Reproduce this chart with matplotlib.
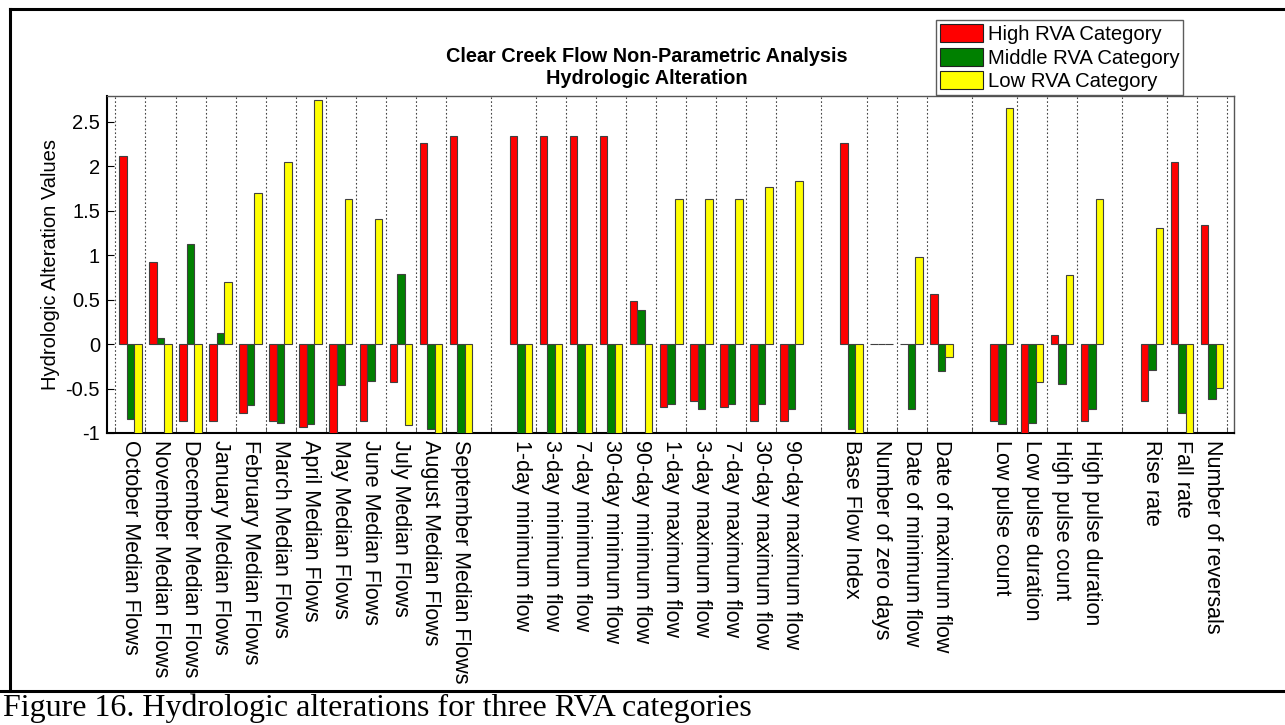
import numpy as np
import matplotlib
matplotlib.use("Agg")
import matplotlib.pyplot as plt
from matplotlib.lines import Line2D

plt.rcParams['font.family'] = ['Liberation Sans', 'DejaVu Sans']
plt.rcParams['axes.unicode_minus'] = False

# Categories, in their groups (a blank slot sits between groups)
groups = [
    ["October Median Flows", "November Median Flows", "December Median Flows",
     "January Median Flows", "February Median Flows", "March Median Flows",
     "April Median Flows", "May Median Flows", "June Median Flows",
     "July Median Flows", "August Median Flows", "September Median Flows"],
    ["1-day minimum flow", "3-day minimum flow", "7-day minimum flow",
     "30-day minimum flow", "90-day minimum flow", "1-day maximum flow",
     "3-day maximum flow", "7-day maximum flow", "30-day maximum flow",
     "90-day maximum flow"],
    ["Base Flow Index", "Number of zero days", "Date of minimum flow",
     "Date of maximum flow"],
    ["Low pulse count", "Low pulse duration", "High pulse count",
     "High pulse duration"],
    ["Rise rate", "Fall rate", "Number of reversals"],
]

high = [2.12, 0.92, -0.86, -0.86, -0.78, -0.86, -0.93, -1.0, -0.86, -0.43, 2.26, 2.34,
        2.34, 2.34, 2.34, 2.34, 0.49, -0.71, -0.64, -0.71, -0.86, -0.86,
        2.26, 0.0, 0.0, 0.56,
        -0.86, -1.0, 0.10, -0.86,
        -0.64, 2.05, 1.34]
middle = [-0.84, 0.07, 1.12, 0.12, -0.68, -0.89, -0.90, -0.46, -0.42, 0.79, -0.95, -1.0,
          -1.0, -1.0, -1.0, -1.0, 0.38, -0.67, -0.73, -0.67, -0.67, -0.73,
          -0.95, 0.0, -0.73, -0.30,
          -0.90, -0.89, -0.45, -0.73,
          -0.29, -0.78, -0.62]
low = [-1.0, -1.0, -1.0, 0.70, 1.70, 2.05, 2.75, 1.63, 1.41, -0.91, -1.0, -1.0,
       -1.0, -1.0, -1.0, -1.0, -1.0, 1.63, 1.63, 1.63, 1.77, 1.83,
       -1.0, 0.0, 0.98, -0.15,
       2.66, -0.43, 0.78, 1.63,
       1.30, -1.0, -0.49]

series_names = ["High RVA Category", "Middle RVA Category", "Low RVA Category"]
series_colors = ["#FF0000", "#008000", "#FFFF00"]

ytick_vals = [-1, -0.5, 0, 0.5, 1, 1.5, 2, 2.5]
ytick_labels = ["-1", "-0.5", "0", "0.5", "1", "1.5", "2", "2.5"]

title = "Clear Creek Flow Non-Parametric Analysis\nHydrologic Alteration"
ylabel = "Hydrologic Alteration Values"
caption = "Figure 16. Hydrologic alterations for three RVA categories"

# positions: one empty slot between groups
labels = []
x = []
pos = 0
for g in groups:
    labels.extend(g)
    x.extend(range(pos, pos + len(g)))
    pos += len(g) + 1
x = np.array(x, dtype=float)
grid_x = np.concatenate([[x[0] - 0.5], (x[:-1] + x[1:]) / 2, [x[-1] + 0.5]])

W, H = 1285, 725
fig = plt.figure(figsize=(W / 100, H / 100), dpi=100)
ax = fig.add_axes([107 / W, 1 - 433 / H, (1234 - 107) / W, (433 - 96) / H])

bw = 0.25
bars = []
for i, (vals, name, col) in enumerate(zip([high, middle, low], series_names, series_colors)):
    b = ax.bar(x + (i - 1) * bw, vals, bw, color=col, edgecolor="#404040",
               linewidth=0.8, label=name, zorder=3)
    bars.append(b)

ax.set_xlim(-0.78, 36.73)
ax.set_ylim(-1, 2.79)

ax.set_xticks(x)
ax.set_xticklabels(labels, rotation=-90, ha="center", va="top", fontsize=15.5)
ax.set_xticks(grid_x, minor=True)
ax.tick_params(axis="x", which="major", length=0, pad=5)
ax.tick_params(axis="x", which="minor", length=4, direction="in", color="#444444")
ax.grid(True, which="minor", axis="x", linestyle=(0, (1.5, 2)), color="#444444",
        linewidth=0.8, zorder=1)

ax.set_yticks(ytick_vals)
ax.set_yticklabels(ytick_labels, fontsize=14.5)
ax.tick_params(axis="y", length=5, direction="in", pad=5)

ax.set_ylabel(ylabel, fontsize=14.5)
ax.yaxis.set_label_coords(-0.042, 0.5)

for s in ["left", "bottom"]:
    ax.spines[s].set_color("black")
    ax.spines[s].set_linewidth(1.5)
for s in ["top", "right"]:
    ax.spines[s].set_color("#555555")
    ax.spines[s].set_linewidth(1.0)

fig.text(647 / W, 1 - 67 / H, title, ha="center", va="center",
         fontsize=14.3, fontweight="bold", linespacing=1.2)

leg = fig.legend(handles=bars, labels=series_names, loc="upper left",
                 bbox_to_anchor=(936 / W, 1 - 20 / H), bbox_transform=fig.transFigure,
                 borderaxespad=0, fontsize=14.6, frameon=True, fancybox=False,
                 edgecolor="#333333", handlelength=2.1, handleheight=1.0,
                 handletextpad=0.25, labelspacing=0.17, borderpad=0.2)
leg.get_frame().set_linewidth(1.0)
for p in leg.get_patches():
    p.set_edgecolor("#222222")

# page frame lines
lw = 2.2
fig.add_artist(Line2D([10 / W, 1], [1 - 9 / H, 1 - 9 / H], color="black", lw=lw))
fig.add_artist(Line2D([10 / W, 10 / W], [1 - 9 / H, 1 - 691 / H], color="black", lw=lw))
fig.add_artist(Line2D([0, 1], [1 - 691 / H, 1 - 691 / H], color="black", lw=lw))

fig.text(3 / W, 1 - 716 / H, caption, ha="left", va="baseline", fontsize=23,
         family=["Liberation Serif", "DejaVu Serif"])

fig.savefig("out.png", dpi=100)
